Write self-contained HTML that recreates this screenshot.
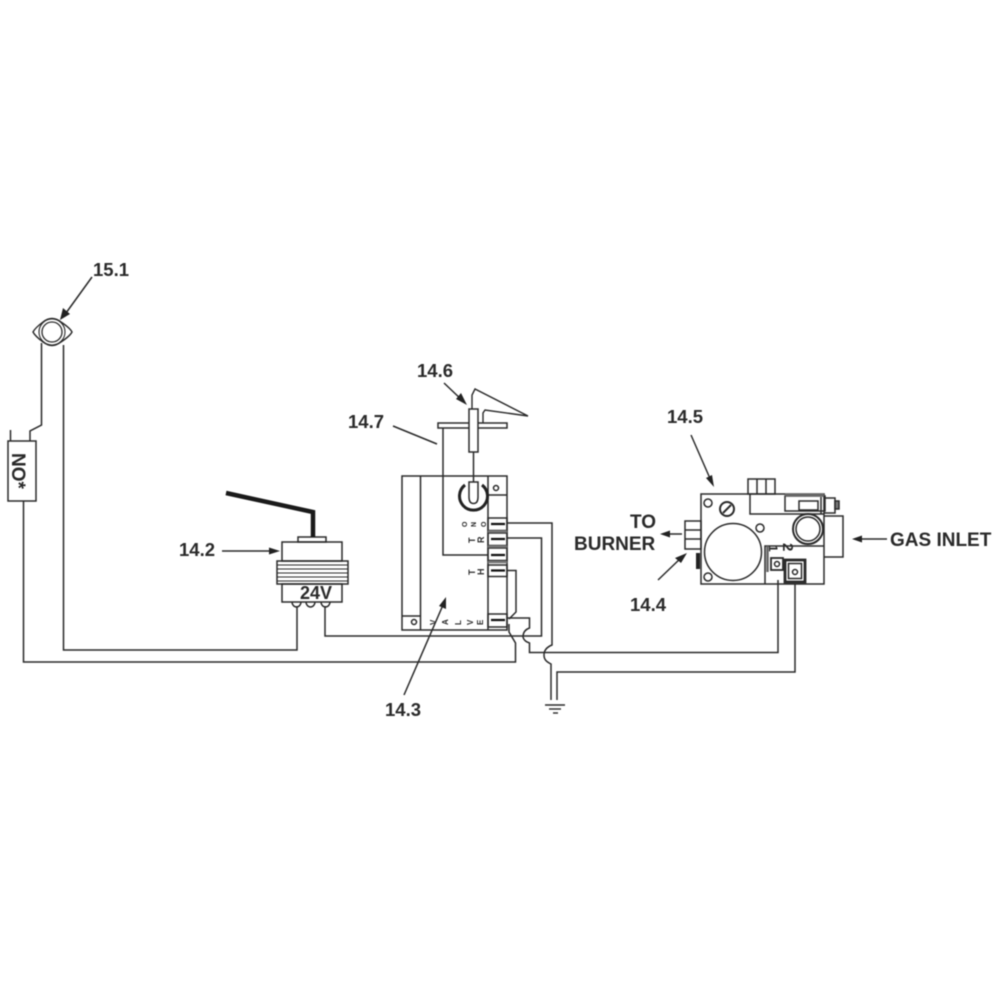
<!DOCTYPE html>
<html>
<head>
<meta charset="utf-8">
<style>
html,body{margin:0;padding:0;background:#fff}
svg{display:block;filter:blur(.5px)}
text{font-family:"Liberation Sans",sans-serif;font-weight:bold;fill:#2a2a2a}
.l{font-size:18.500px}
.c{font-size:19px}
</style>
</head>
<body>
<svg width="1000" height="1000" viewBox="0 0 1000 1000">
<rect width="1000" height="1000" fill="#fff"/>
<g fill="none" stroke="#2a2a2a" stroke-width="1.500">
<!-- 15.1 sensor -->
<path d="M33 332 Q35 328 43 322 Q52 315 61 322 Q70 328 72 332 Q70 336 61 342 Q52 349 43 342 Q35 336 33 332 Z" stroke-width="1.400"/>
<circle cx="52" cy="332" r="10" stroke-width="1.300"/>
<circle cx="52" cy="332" r="13" stroke-width="1.100"/>
<path d="M41.500 343 V425 L30 431 V441"/>
<path d="M63.500 345 V650 H297 V606"/>
<path d="M10.500 430 V441"/>
<rect x="8" y="441" width="28" height="60" fill="#fff"/>
<path d="M23.500 501 V662 H515.500 V643 L509 632 V624"/>
<!-- transformer -->
<rect x="282" y="542" width="60" height="19"/>
<rect x="298" y="537" width="28" height="5"/>
<rect x="277" y="561" width="71" height="23"/>
<path d="M277 565 H348 M277 569 H348 M277 573 H348 M277 577 H348 M277 581 H348" stroke-width="1.100"/>
<rect x="282" y="584" width="60" height="18"/>
<path d="M292 602 a4.500 5 0 0 0 9 0 M306 602 a4.500 5 0 0 0 9 0 M321 602 a4.500 5 0 0 0 9 0"/>
<path d="M325 606 V636 H541.500 V538 H507"/>
<!-- primary lead -->
<path d="M226 493 L313 512 V537" stroke="#1a1a1a" stroke-width="4.500"/>
<!-- control box -->
<rect x="402" y="476" width="105" height="154"/>
<path d="M420.500 476 V630 M402 616 H420.500 M488 476 V630 M488 495 H507"/>
<circle cx="496" cy="488" r="2.500"/>
<circle cx="414" cy="622" r="2.500"/>
<!-- terminals -->
<rect x="488" y="518" width="19" height="12.500"/>
<rect x="488" y="533" width="19" height="12.500"/>
<rect x="488" y="548" width="19" height="12.500"/>
<rect x="488" y="565" width="19" height="11.500"/>
<rect x="488" y="614" width="19" height="13"/>
<path d="M488 531.500 H507 M488 546.500 H507 M488 562 H507" stroke="#777" stroke-width="2.500"/>
<path d="M491 524 H505 M491 539 H505 M491 555 H505 M491 570.500 H505 M491 620 H505" stroke="#111" stroke-width="2.200"/>
<!-- power symbol -->
<path d="M465 485 A14 14 0 1 0 482 485" stroke="#222" stroke-width="3"/>
<path d="M469 482 H478 V497 Q478 503.500 473.500 503.500 Q469 503.500 469 497 Z"/>
<!-- igniter -->
<path d="M443 428 V555 H488"/>
<rect x="438" y="423" width="69" height="5" fill="#fff"/>
<rect x="469" y="409" width="9" height="43" fill="#fff"/>
<path d="M473.500 452 V482"/>
<path d="M472 409 V395 L475 389 L528 416 L485 410 L483 413 V423" stroke-width="1.400"/>
<!-- wires -->
<path d="M507 523 H552 V645 C547 647 544 650 544 655 C544 660 547 662 551 664 V700"/>
<path d="M507 570.500 H516 V612 L509 619"/>
<path d="M507 618 H529.500 V628 C524 630 523 634 523 637 C524 641 527 642 529.500 643 V652.500 H778 V580"/>
<path d="M557 700 V672 H795 V584"/>
<!-- ground -->
<path d="M545 705 H565"/>
<path d="M549 709 H561" stroke-width="1.400"/>
<path d="M553 713 H558" stroke-width="1.400"/>
<!-- gas valve -->
<rect x="701" y="494" width="123" height="90"/>
<rect x="748" y="479" width="27" height="15"/>
<path d="M757 479 V494 M766 479 V494"/>
<path d="M750 494 V514 H824"/>
<rect x="785" y="496" width="40" height="15"/>
<path d="M785 495 H824" stroke-width="3" stroke="#666"/>
<rect x="799" y="501" width="19" height="9"/>
<path d="M821 497 V514"/>
<path d="M824 498 H835 V513 H824"/>
<rect x="835" y="501" width="4" height="8" fill="#777"/>
<path d="M824 516 H843 V557 H824"/>
<circle cx="808" cy="529" r="12"/>
<circle cx="808" cy="529" r="15" stroke-width="2"/>
<circle cx="733" cy="552" r="28.500"/>
<circle cx="708" cy="503" r="4"/>
<circle cx="708" cy="577" r="4"/>
<circle cx="760" cy="528" r="4"/>
<circle cx="727" cy="509" r="7" stroke-width="2"/>
<path d="M723 513 L731 505" stroke-width="2"/>
<path d="M765 584 V546 H824"/>
<rect x="685" y="521" width="16" height="28"/>
<path d="M685 530 H701 M685 539 H701"/>
<path d="M698 553 V569" stroke="#222" stroke-width="4"/>
<path d="M767.500 546 V572" stroke-width="2.500" stroke="#666"/>
<rect x="771" y="558" width="12" height="12" stroke-width="1.800"/>
<circle cx="777" cy="564" r="2.500"/>
<rect x="785" y="560" width="20" height="22" stroke-width="2.800"/>
<rect x="788.500" y="563.500" width="13" height="15"/>
<circle cx="795" cy="572" r="2.500"/>
<!-- leaders -->
<path d="M92 277 L66 313"/>
<path d="M222 551 H277"/>
<path d="M393 426 L437 444"/>
<path d="M444 383 L464 402"/>
<path d="M404 695 L443 605"/>
<path d="M691 435 L712 483"/>
<path d="M666 534 H682"/>
<path d="M658 580 L683 556"/>
<path d="M887 539 H858"/>
</g>
<!-- arrowheads -->
<g fill="#222">
<path d="M60 320 L63 308 L70 314 Z"/>
<path d="M280 551 L269 547.500 V554.500 Z"/>
<path d="M467 405 L456 399 L461 393 Z"/>
<path d="M446 597 L446 609 L439 606 Z"/>
<path d="M714 487 L706 478 L712 475 Z"/>
<path d="M660 534 L670 530.500 V537.500 Z"/>
<path d="M687 553 L681 563 L675 558 Z"/>
<path d="M852 539 L862 535.500 V542.500 Z"/>
</g>
<!-- labels -->
<text class="l" x="93" y="276">15.1</text>
<text class="l" x="179" y="556">14.2</text>
<text class="l" x="348" y="428">14.7</text>
<text class="l" x="417" y="377">14.6</text>
<text class="l" x="385" y="716">14.3</text>
<text class="l" x="667" y="423">14.5</text>
<text class="l" x="630" y="611">14.4</text>
<text class="c" x="630" y="528">TO</text>
<text class="c" x="574" y="550">BURNER</text>
<text class="c" x="890" y="546">GAS INLET</text>
<text x="300" y="599" font-size="18">24V</text>
<text x="0" y="0" font-size="19" transform="translate(12,453) rotate(90)">NO*</text>
<g font-size="7" fill="#444">
<text rotate="-90" x="467 476 486" y="527">ONO</text>
<text rotate="-90" x="475 484" y="543" font-size="9">TR</text>
<text rotate="-90" x="475 484" y="575" font-size="9">TH</text>
<text rotate="-90" x="436 448 461 473 483" y="625" font-size="8">VALVE</text>
</g>
<text x="0" y="0" font-size="12" transform="translate(769,545) rotate(90)">1</text>
<text x="0" y="0" font-size="15" transform="translate(783,543) rotate(90)">2</text>
</svg>
</body>
</html>
